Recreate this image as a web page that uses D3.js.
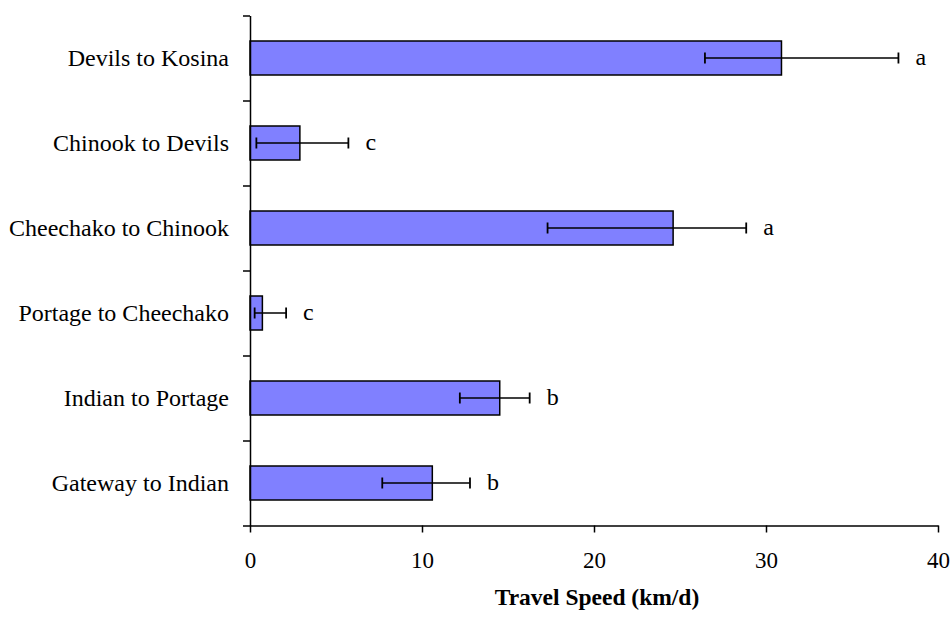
<!DOCTYPE html>
<html>
<head>
<meta charset="utf-8">
<script src="https://cdn.jsdelivr.net/npm/d3@7"></script>
<style>
  body { margin: 0; background: #fff; }
  text { font-family: "Times New Roman", "Liberation Serif", serif; fill: #000; }
</style>
</head>
<body>
<script>
// segments, top to bottom
var categories = ["Devils to Kosina", "Chinook to Devils", "Cheechako to Chinook",
                  "Portage to Cheechako", "Indian to Portage", "Gateway to Indian"];
var speeds = [30.9, 2.9, 24.6, 0.72, 14.52, 10.6];
var lowerEnds = [26.45, 0.37, 17.3, 0.27, 12.2, 7.69];
var upperEnds = [37.7, 5.72, 28.85, 2.1, 16.26, 12.79];
var groupLetters = ["a", "c", "a", "c", "b", "b"];
var xTicks = [0, 10, 20, 30, 40];

var w = 951;
var h = 619;
// note: "top" is taken by window.top, so use plot* names
var plotLeft = 250, plotRight = 938, plotTop = 15.5, plotBottom = 525.5;

var svg = d3.select("body")
    .append("svg")
    .attr("width", w)
    .attr("height", h);

var xScale = d3.scaleLinear()
    .domain([0, 40])
    .range([plotLeft, plotRight]);

var yScale = d3.scaleBand()
    .domain(categories)
    .range([plotTop, plotBottom])
    .paddingInner(0.6)
    .paddingOuter(0.3);

// boundaries between categories, for the tick marks
var yEdges = d3.scaleLinear()
    .domain([0, categories.length])
    .range([plotTop, plotBottom]);

var data = categories.map(function(c, i){
    return {name: c, v: speeds[i], lo: lowerEnds[i], hi: upperEnds[i], g: groupLetters[i]};
});

// bars
svg.selectAll("rect.bar")
    .data(data)
    .enter()
    .append("rect")
    .attr("class", "bar")
    .attr("x", xScale(0))
    .attr("y", function(d){ return yScale(d.name); })
    .attr("width", function(d){ return xScale(d.v) - xScale(0); })
    .attr("height", yScale.bandwidth())
    .style("fill", "#8080ff")
    .style("stroke", "#000")
    .style("stroke-width", 1.5);

// error bars
var err = svg.selectAll("g.err")
    .data(data)
    .enter()
    .append("g")
    .attr("class", "err")
    .attr("transform", function(d){
        return "translate(0," + (yScale(d.name) + yScale.bandwidth() / 2) + ")";
    });

err.append("line")
    .attr("x1", function(d){ return xScale(d.lo); })
    .attr("x2", function(d){ return xScale(d.hi); })
    .attr("stroke", "#000")
    .attr("stroke-width", 1.5);

err.append("line")
    .attr("x1", function(d){ return xScale(d.lo); })
    .attr("x2", function(d){ return xScale(d.lo); })
    .attr("y1", -5.5).attr("y2", 5.5)
    .attr("stroke", "#000")
    .attr("stroke-width", 1.8);

err.append("line")
    .attr("x1", function(d){ return xScale(d.hi); })
    .attr("x2", function(d){ return xScale(d.hi); })
    .attr("y1", -5.5).attr("y2", 5.5)
    .attr("stroke", "#000")
    .attr("stroke-width", 1.8);

err.append("text")
    .attr("x", function(d){ return xScale(d.hi) + 17; })
    .attr("y", 7)
    .style("font-size", "24px")
    .text(function(d){ return d.g; });

// y axis: line plus ticks at category edges
var yAxis = svg.append("g")
    .attr("transform", "translate(" + plotLeft + ",0)")
    .call(d3.axisLeft(yEdges)
        .tickValues(d3.range(categories.length + 1))
        .tickSize(7)
        .tickSizeOuter(0)
        .tickFormat(""));
yAxis.selectAll("path, line").attr("stroke", "#000").attr("stroke-width", 1.5);

svg.selectAll("text.cat")
    .data(categories)
    .enter()
    .append("text")
    .attr("class", "cat")
    .attr("x", plotLeft - 21)
    .attr("y", function(d){ return yScale(d) + yScale.bandwidth() / 2 + 8; })
    .attr("text-anchor", "end")
    .style("font-size", "24px")
    .text(function(d){ return d; });

// x axis
var xAxis = svg.append("g")
    .attr("transform", "translate(0," + plotBottom + ")")
    .call(d3.axisBottom(xScale)
        .tickValues(xTicks)
        .tickSize(7)
        .tickSizeOuter(0)
        .tickPadding(19));
xAxis.selectAll("path, line").attr("stroke", "#000").attr("stroke-width", 1.5);
xAxis.selectAll("text")
    .style("font-family", "'Times New Roman', 'Liberation Serif', serif")
    .style("font-size", "23px");

svg.append("text")
    .attr("x", 597)
    .attr("y", 605)
    .attr("text-anchor", "middle")
    .style("font-size", "23.5px")
    .style("font-weight", "bold")
    .text("Travel Speed (km/d)");
</script>
</body>
</html>
